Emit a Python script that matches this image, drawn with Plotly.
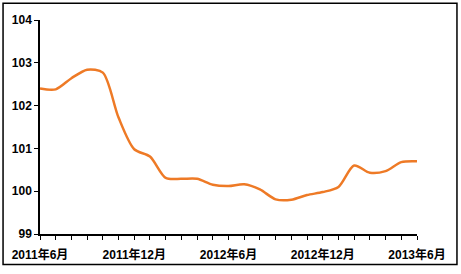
import plotly.graph_objects as go

months = ["2011年6月", "2011年7月", "2011年8月", "2011年9月", "2011年10月", "2011年11月",
          "2011年12月", "2012年1月", "2012年2月", "2012年3月", "2012年4月", "2012年5月",
          "2012年6月", "2012年7月", "2012年8月", "2012年9月", "2012年10月", "2012年11月",
          "2012年12月", "2013年1月", "2013年2月", "2013年3月", "2013年4月", "2013年5月",
          "2013年6月"]
values = [102.40, 102.38, 102.64, 102.84, 102.77, 101.72, 100.98, 100.81, 100.31, 100.29,
          100.29, 100.15, 100.12, 100.16, 100.04, 99.81, 99.80, 99.91, 99.98, 100.10,
          100.60, 100.43, 100.47, 100.68, 100.70]
label_months = ["2011年6月", "2011年12月", "2012年6月", "2012年12月", "2013年6月"]
y_ticks = [99, 100, 101, 102, 103, 104]

fig = go.Figure()
fig.add_trace(go.Scatter(x=months, y=values, mode="lines",
                         line=dict(color="#EE7A26", width=2.5, shape="spline", smoothing=0.8),
                         hoverinfo="skip"))

font = dict(family="Liberation Sans, Noto Sans CJK SC, Arial", size=12, color="black")
fig.update_layout(
    width=461, height=274,
    margin=dict(l=40, r=44, t=20, b=37),
    paper_bgcolor="white", plot_bgcolor="white",
    showlegend=False,
    font=font,
    xaxis=dict(type="category", categoryorder="array", categoryarray=months,
               range=[0, len(months) - 1],
               tickmode="array", tickvals=months,
               ticktext=[m if m in label_months else "" for m in months],
               ticks="outside", ticklen=4, tickwidth=1, tickcolor="black",
               showline=True, linecolor="black", linewidth=1.5,
               showgrid=False, zeroline=False,
               tickfont=dict(family="Liberation Sans, Noto Sans CJK SC", size=12, color="black", weight="bold"),
               ticklabelstandoff=5),
    yaxis=dict(range=[99, 104], tickvals=y_ticks,
               ticks="outside", ticklen=4, tickwidth=1, tickcolor="black",
               showline=True, linecolor="black", linewidth=1.5,
               showgrid=False, zeroline=False,
               tickfont=dict(family="Liberation Sans", size=12, color="black", weight="bold")),
    shapes=[dict(type="rect", xref="paper", yref="paper",
                 x0=-0.098, x1=1.106, y0=-0.143, y1=1.078,
                 line=dict(color="black", width=1.5), layer="below")],
)
fig.write_html("out.html")
